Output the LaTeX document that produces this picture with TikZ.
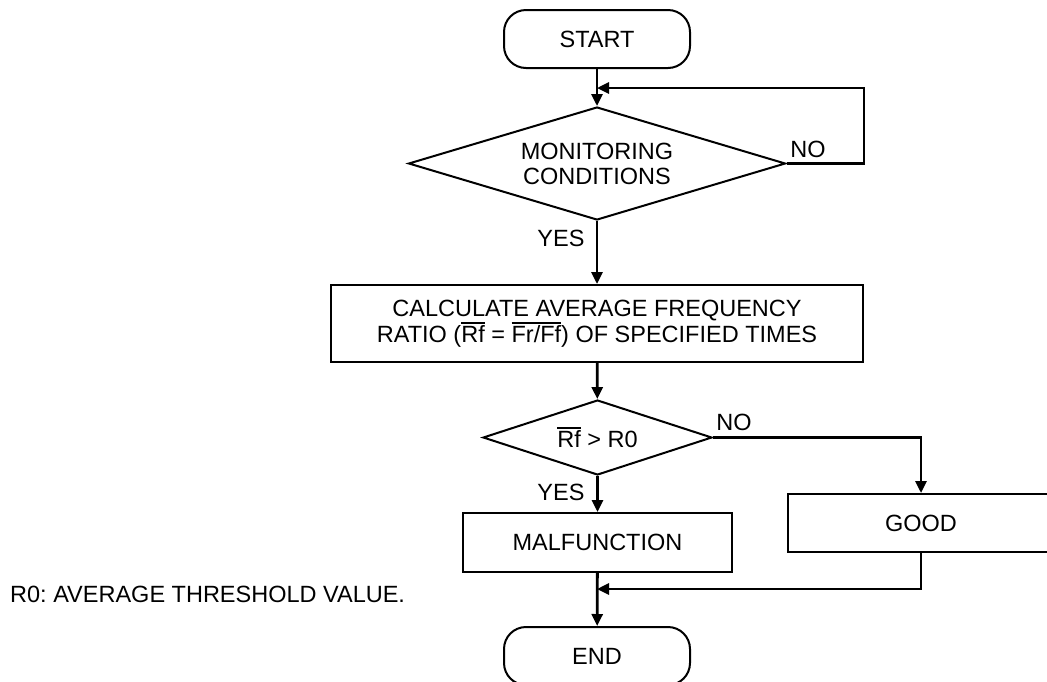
\documentclass[tikz,border=0pt]{standalone}
\usepackage{fontspec}
\setmainfont{Liberation Sans}
\frenchspacing
\usetikzlibrary{arrows.meta,shapes.geometric}
\newcommand{\ovl}[1]{\leavevmode\vbox{\hrule height 1.4pt\kern1.6pt\hbox{#1}}}
\tikzset{
    %Define standard arrow tip
    >={Triangle[length=12pt,width=11pt]},
    %Define style for start and end
    terminal/.style={
           rectangle,
           rounded corners=22pt,
           draw=black, line width=2pt,
           minimum width=186pt,
           minimum height=58pt},
    %Define style for boxes
    box/.style={
           rectangle,
           draw=black, line width=2pt,
           align=center,
           minimum height=58pt},
    %Define style for decisions
    decision/.style={
           diamond,
           draw=black, line width=2pt,
           align=center,
           inner sep=0pt},
    % Define arrow style
    flow/.style={
           ->,
           line width=2.8pt},
    lbl/.style={
           inner sep=0pt}
}
\begin{document}
\begin{tikzpicture}[x=1pt,y=-1pt,font=\fontsize{23.5pt}{25pt}\selectfont]
 \useasboundingbox (0,0) rectangle (1047,681);
 %nodes
    \node[terminal] (start) at (597,39) {START};
    \node[decision, aspect=3.34, minimum width=377pt, minimum height=113pt] (monitor) at (597,163.5) {MONITORING\\CONDITIONS};
    \node[box, minimum width=532pt, minimum height=77pt] (calc) at (597,323.5)
        {CALCULATE AVERAGE FREQUENCY\\[1pt]RATIO (\ovl{Rf} = \ovl{Fr/Ff}) OF SPECIFIED TIMES};
    \node[decision, aspect=3.05, minimum width=229pt, minimum height=75pt] (check) at (597.5,437.5) {\ovl{Rf} > R0};
    \node[box, minimum width=269pt, minimum height=59pt] (malf) at (597.5,542.5) {MALFUNCTION};
    \node[box, minimum width=266pt] (good) at (921,523) {GOOD};
    \node[terminal] (end) at (597,656) {END};
    \node[lbl] (no1) at (808,149) {NO};
    \node[lbl] (yes1) at (561,238) {YES};
    \node[lbl] (no2) at (734,422) {NO};
    \node[lbl] (yes2) at (561,492) {YES};
    \node[lbl, anchor=west] (note) at (10,594) {R0: AVERAGE THRESHOLD VALUE.};
    \coordinate (loopin) at (597,88);
    \coordinate (loopr) at (864,88);
    \coordinate (merge) at (597,589);
 %edges
    \draw[flow] (start) -- (monitor);
    \draw[flow] (monitor.east) -| (loopr) -- (loopin);
    \draw[flow] (monitor) -- (calc);
    \draw[flow] (calc) -- (check);
    \draw[flow] (check) -- (malf);
    \draw[flow] (check.east) -| (good.north);
    \draw[flow] (good.south) |- (merge);
    \draw[flow] (malf) -- (end);
\end{tikzpicture}
\end{document}
